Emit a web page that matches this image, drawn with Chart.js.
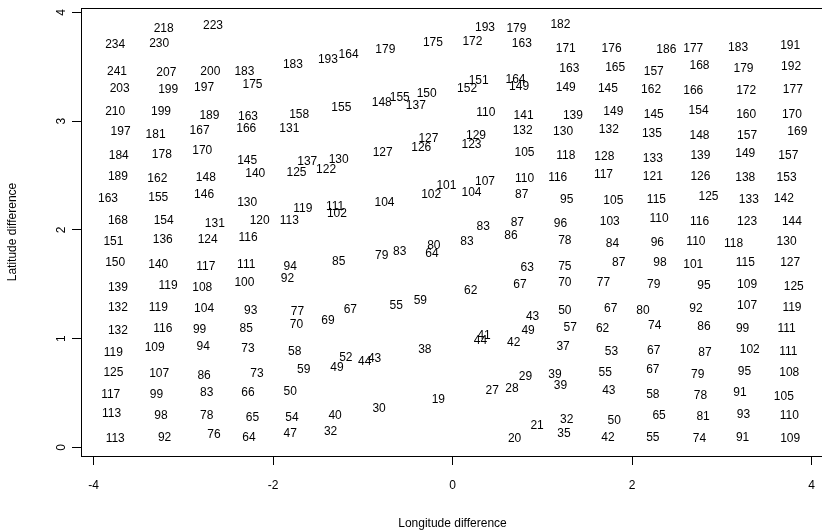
<!DOCTYPE html>
<html lang="en">
<head>
<meta charset="UTF-8" />
<title>Latitude vs longitude difference</title>
<script src="https://cdn.jsdelivr.net/npm/chart.js@4"></script>
<style>
  html, body { margin: 0; padding: 0; overflow: hidden; background: #fff; }
</style>
</head>
<body>
<canvas id="chart" width="826" height="531"></canvas>
<script>
// label values, in reading order (top rows first)
const values = [
  218,223,234,230,193,179,182,179,175,172,
  163,171,176,186,177,183,191,193,164,183,
  241,207,200,183,151,164,163,165,157,168,
  179,192,203,199,197,175,152,149,149,145,
  162,166,172,177,148,155,150,137,210,199,
  189,163,158,155,110,141,139,149,145,154,
  160,170,197,181,167,166,131,127,126,129,
  123,132,130,132,135,148,157,169,184,178,
  170,145,137,130,127,105,118,128,133,139,
  149,157,189,162,148,140,125,122,110,116,
  117,121,126,138,153,101,107,163,155,146,
  130,119,111,102,104,102,104,87,95,105,
  115,125,133,142,168,154,131,120,113,83,
  87,96,103,110,116,123,144,151,136,124,
  116,86,83,78,84,96,110,118,130,80,
  64,83,79,85,150,140,117,111,94,63,
  75,87,98,101,115,127,92,139,119,108,
  100,62,67,70,77,79,95,109,125,132,
  119,104,93,77,70,69,67,55,59,43,
  50,67,80,92,107,119,132,116,99,85,
  49,57,62,74,86,99,111,41,44,42,
  37,38,119,109,94,73,58,52,49,44,
  43,53,67,87,102,111,125,107,86,73,
  59,29,39,39,27,28,19,55,67,79,
  95,108,117,99,83,66,50,43,58,78,
  91,105,113,98,78,65,54,40,30,21,
  32,50,65,81,93,110,113,92,76,64,
  47,32,20,35,42,55,74,91,109
];

// longitude difference of each label
const lon = [
  -3.22,-2.67,-3.76,-3.27,0.36,0.71,1.20,-0.75,-0.22,0.22,
  0.77,1.26,1.77,2.38,2.68,3.18,3.76,-1.39,-1.16,-1.78,
  -3.74,-3.19,-2.70,-2.32,0.29,0.70,1.30,1.81,2.24,2.75,
  3.24,3.77,-3.71,-3.17,-2.77,-2.23,0.16,0.74,1.26,1.73,
  2.21,2.68,3.27,3.79,-0.79,-0.59,-0.29,-0.41,-3.76,-3.25,
  -2.71,-2.28,-1.71,-1.24,0.37,0.79,1.34,1.79,2.24,2.74,
  3.27,3.78,-3.70,-3.31,-2.82,-2.30,-1.82,-0.27,-0.35,0.26,
  0.21,0.78,1.23,1.74,2.22,2.75,3.28,3.84,-3.72,-3.24,
  -2.79,-2.29,-1.62,-1.27,-0.78,0.80,1.26,1.69,2.23,2.76,
  3.26,3.74,-3.73,-3.29,-2.75,-2.20,-1.74,-1.41,0.80,1.17,
  1.68,2.23,2.76,3.26,3.72,-0.07,0.36,-3.84,-3.28,-2.77,
  -2.29,-1.67,-1.31,-1.29,-0.76,-0.24,0.21,0.77,1.27,1.79,
  2.27,2.85,3.30,3.69,-3.73,-3.22,-2.65,-2.15,-1.82,0.34,
  0.72,1.20,1.75,2.30,2.75,3.28,3.78,-3.78,-3.23,-2.73,
  -2.28,0.65,0.16,1.25,1.78,2.28,2.71,3.13,3.72,-0.21,
  -0.23,-0.59,-0.79,-1.27,-3.76,-3.28,-2.75,-2.30,-1.81,0.83,
  1.25,1.85,2.31,2.68,3.26,3.76,-1.84,-3.73,-3.17,-2.79,
  -2.32,0.20,0.75,1.25,1.68,2.24,2.80,3.28,3.80,-3.73,
  -3.28,-2.77,-2.25,-1.73,-1.74,-1.39,-1.14,-0.63,-0.36,0.89,
  1.25,1.76,2.12,2.71,3.28,3.78,-3.73,-3.23,-2.82,-2.30,
  0.84,1.31,1.67,2.25,2.80,3.23,3.72,0.35,0.31,0.68,
  1.23,-0.31,-3.78,-3.32,-2.78,-2.28,-1.76,-1.19,-1.29,-0.98,
  -0.87,1.77,2.24,2.81,3.31,3.74,-3.78,-3.27,-2.77,-2.18,
  -1.66,0.81,1.14,1.20,0.44,0.66,-0.16,1.70,2.23,2.73,
  3.25,3.75,-3.81,-3.30,-2.74,-2.28,-1.81,1.74,2.23,2.76,
  3.20,3.69,-3.80,-3.25,-2.74,-2.23,-1.79,-1.31,-0.82,0.94,
  1.27,1.80,2.30,2.79,3.24,3.75,-3.76,-3.21,-2.66,-2.27,
  -1.81,-1.36,0.69,1.24,1.73,2.23,2.75,3.23,3.76
];

// latitude difference of each label
const lat = [
  3.85,3.88,3.70,3.71,3.86,3.85,3.89,3.66,3.72,3.73,
  3.71,3.67,3.67,3.66,3.67,3.68,3.69,3.57,3.61,3.52,
  3.46,3.45,3.46,3.46,3.37,3.38,3.48,3.49,3.46,3.51,
  3.48,3.50,3.30,3.29,3.31,3.34,3.30,3.32,3.31,3.30,
  3.29,3.28,3.28,3.29,3.17,3.22,3.25,3.14,3.09,3.09,
  3.05,3.04,3.06,3.12,3.08,3.05,3.05,3.09,3.06,3.10,
  3.06,3.06,2.90,2.88,2.91,2.93,2.93,2.84,2.76,2.87,
  2.78,2.91,2.90,2.92,2.89,2.87,2.87,2.90,2.68,2.69,
  2.73,2.64,2.63,2.65,2.71,2.71,2.68,2.67,2.66,2.68,
  2.70,2.68,2.49,2.47,2.48,2.52,2.53,2.55,2.47,2.48,
  2.51,2.49,2.49,2.48,2.48,2.41,2.44,2.29,2.30,2.32,
  2.25,2.20,2.21,2.15,2.25,2.32,2.34,2.32,2.28,2.27,
  2.28,2.31,2.28,2.29,2.09,2.09,2.06,2.09,2.09,2.03,
  2.07,2.06,2.08,2.10,2.08,2.08,2.08,1.89,1.91,1.91,
  1.93,1.95,1.89,1.90,1.87,1.88,1.89,1.87,1.89,1.86,
  1.78,1.80,1.76,1.71,1.70,1.68,1.66,1.68,1.66,1.65,
  1.66,1.70,1.70,1.68,1.70,1.70,1.55,1.47,1.49,1.47,
  1.52,1.44,1.50,1.52,1.52,1.50,1.49,1.50,1.48,1.29,
  1.29,1.28,1.26,1.25,1.13,1.17,1.27,1.30,1.35,1.20,
  1.26,1.28,1.26,1.28,1.30,1.29,1.07,1.09,1.08,1.09,
  1.07,1.10,1.09,1.12,1.11,1.09,1.09,1.03,0.98,0.96,
  0.93,0.90,0.87,0.92,0.93,0.91,0.88,0.83,0.73,0.79,
  0.82,0.88,0.89,0.87,0.90,0.88,0.69,0.68,0.66,0.68,
  0.72,0.65,0.67,0.57,0.52,0.54,0.44,0.69,0.72,0.67,
  0.70,0.69,0.49,0.49,0.50,0.50,0.51,0.52,0.49,0.48,
  0.50,0.47,0.31,0.29,0.29,0.27,0.27,0.29,0.36,0.20,
  0.26,0.25,0.29,0.28,0.30,0.29,0.08,0.09,0.12,0.09,
  0.13,0.15,0.08,0.13,0.09,0.09,0.08,0.09,0.08
];

const xTicks = [-4, -2, 0, 2, 4];
const yTicks = [0, 1, 2, 3, 4];

const FONT = "'Liberation Sans', Arial, Helvetica, sans-serif";

// write each value at its point, like R's text()
const labelPlugin = {
  id: "pointLabels",
  afterDatasetsDraw(chart) {
    const ctx = chart.ctx;
    const meta = chart.getDatasetMeta(0);
    ctx.save();
    ctx.font = "12px " + FONT;
    ctx.fillStyle = "#000";
    ctx.textAlign = "center";
    ctx.textBaseline = "middle";
    meta.data.forEach((pt, i) => {
      ctx.fillText(String(values[i]), pt.x, pt.y);
    });
    ctx.restore();
  }
};

// box around the plot region
const boxPlugin = {
  id: "plotBox",
  afterDraw(chart) {
    const { ctx, chartArea: a } = chart;
    ctx.save();
    ctx.strokeStyle = "#000";
    ctx.lineWidth = 1;
    ctx.strokeRect(a.left + 0.5, a.top + 0.5, a.right - a.left, a.bottom - a.top);
    ctx.restore();
  }
};

new Chart(document.getElementById("chart"), {
  type: "scatter",
  data: {
    datasets: [{
      data: lon.map((x, i) => ({ x: x, y: lat[i] })),
      pointRadius: 0,
      pointHoverRadius: 0,
      showLine: false
    }]
  },
  options: {
    responsive: false,
    animation: false,
    events: [],
    layout: { padding: { top: 8, right: 2, left: 0, bottom: 0 } },
    plugins: { legend: { display: false }, tooltip: { enabled: false } },
    scales: {
      x: {
        type: "linear",
        min: -4.141,
        max: 4.137,
        afterBuildTicks: (s) => { s.ticks = xTicks.map((v) => ({ value: v })); },
        afterFit: (s) => { s.height = 75; s.paddingLeft = 0; s.paddingRight = 0; },
        grid: { drawOnChartArea: false, drawTicks: true, tickLength: 9, color: "#000" },
        border: { display: false },
        ticks: { color: "#000", font: { family: FONT, size: 12 }, padding: 13, maxRotation: 0 },
        title: {
          display: true,
          text: "Longitude difference",
          color: "#000",
          font: { family: FONT, size: 12 },
          padding: { top: 0, bottom: 0 }
        }
      },
      y: {
        type: "linear",
        min: -0.078,
        max: 4.041,
        afterBuildTicks: (s) => { s.ticks = yTicks.map((v) => ({ value: v })); },
        afterFit: (s) => { s.width = 81; s.paddingTop = 0; s.paddingBottom = 0; },
        grid: { drawOnChartArea: false, drawTicks: true, tickLength: 9, color: "#000" },
        border: { display: false },
        ticks: {
          color: "#000",
          font: { family: FONT, size: 12 },
          padding: 7,
          minRotation: 90,
          maxRotation: 90,
          crossAlign: "center"
        },
        title: {
          display: true,
          text: "Latitude difference",
          color: "#000",
          font: { family: FONT, size: 12 },
          padding: { top: 5, bottom: 0 }
        }
      }
    }
  },
  plugins: [labelPlugin, boxPlugin]
});
</script>
</body>
</html>
